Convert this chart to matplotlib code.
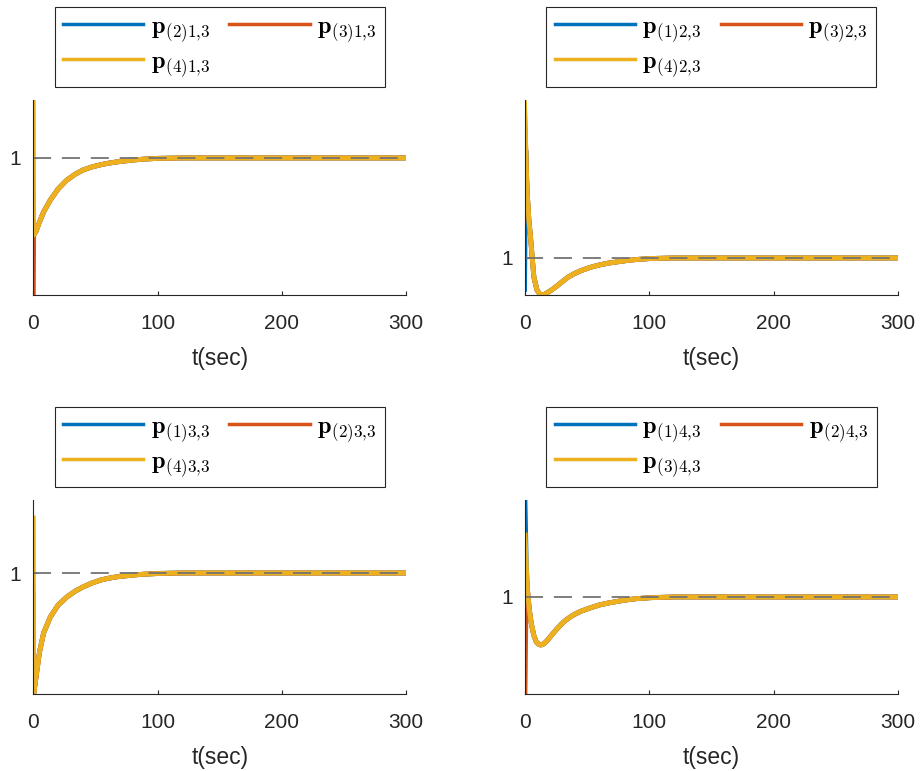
import matplotlib.pyplot as plt
from matplotlib.lines import Line2D

plt.rcParams['font.family'] = ['Liberation Sans', 'DejaVu Sans']
plt.rcParams['mathtext.fontset'] = 'cm'

# colours (MATLAB default order)
c_blue = '#0072BD'
c_red = '#D95319'
c_yel = '#EDB120'

# ---- panel 1: p_(.)1,3 ----
t_tail1 = [0.3, 2, 5, 8.3, 13.7, 20, 27, 34, 40, 47, 54, 60, 67, 80, 90, 100, 120, 300]
y_tail1 = [0.438, 0.460, 0.533, 0.606, 0.693, 0.774, 0.839, 0.883, 0.912,
           0.934, 0.950, 0.961, 0.971, 0.985, 0.992, 0.997, 1.0, 1.0]
start1 = [0.30, 0.0, 1.409]          # blue, red, yellow at t=0
ylim1 = (0.0, 1.423)
labels1 = [r'$\mathbf{p}_{(2)1{,}3}$', r'$\mathbf{p}_{(3)1{,}3}$', r'$\mathbf{p}_{(4)1{,}3}$']

# ---- panel 2: p_(.)2,3 ----
t_tail2 = [1, 2, 3.5, 5, 7.5, 10, 12, 14, 16, 18, 22, 26, 30, 35, 40, 46, 53, 60,
           67, 80, 90, 101, 120, 300]
y_tail2 = [1.788, 1.496, 1.277, 1.131, 0.861, 0.766, 0.739, 0.730, 0.734, 0.745,
           0.768, 0.795, 0.825, 0.860, 0.886, 0.910, 0.932, 0.949, 0.962, 0.979,
           0.989, 0.996, 1.0, 1.0]
start2 = [0.77, 2.08, 2.131]
ylim2 = (0.730, 2.153)
labels2 = [r'$\mathbf{p}_{(1)2{,}3}$', r'$\mathbf{p}_{(3)2{,}3}$', r'$\mathbf{p}_{(4)2{,}3}$']

# ---- panel 3: p_(.)3,3 ----
t_tail3 = [0.3, 1, 3, 5, 8.3, 13.7, 20, 27, 34, 40, 47, 54, 60, 67, 80, 90, 102, 120, 300]
y_tail3 = [0.117, 0.161, 0.292, 0.423, 0.562, 0.679, 0.766, 0.825, 0.869,
           0.898, 0.926, 0.948, 0.961, 0.972, 0.985, 0.992, 0.997, 1.0, 1.0]
start3 = [0.50, 0.85, 1.401]
ylim3 = (0.117, 1.533)
labels3 = [r'$\mathbf{p}_{(1)3{,}3}$', r'$\mathbf{p}_{(2)3{,}3}$', r'$\mathbf{p}_{(4)3{,}3}$']

# ---- panel 4: p_(.)4,3 ----
t_tail4 = [2, 3.5, 5, 7, 9, 11, 12.3, 14, 16, 18, 22, 26, 30, 33, 37, 40, 45, 53,
           60, 67, 80, 90, 101, 120, 300]
y_tail4 = [1.051, 0.905, 0.810, 0.723, 0.674, 0.655, 0.650, 0.652, 0.665, 0.684,
           0.728, 0.770, 0.808, 0.832, 0.858, 0.874, 0.896, 0.922, 0.942, 0.956,
           0.977, 0.988, 0.995, 1.0, 1.0]
start4 = [1.70, 0.292, 1.453]
mid4 = [1.234, 1.13, 1.234]          # values near t=1
ylim4 = (0.292, 1.708)
labels4 = [r'$\mathbf{p}_{(1)4{,}3}$', r'$\mathbf{p}_{(2)4{,}3}$', r'$\mathbf{p}_{(3)4{,}3}$']

panels = [
    ([0.0361, 0.6174, 0.4045, 0.2529], [0], t_tail1, y_tail1, start1, None, ylim1, labels1),
    ([0.5689, 0.6174, 0.4051, 0.2529], [0], t_tail2, y_tail2, start2, None, ylim2, labels2),
    ([0.0361, 0.0999, 0.4045, 0.2516], [0], t_tail3, y_tail3, start3, None, ylim3, labels3),
    ([0.5694, 0.0999, 0.4046, 0.2516], [0, 1], t_tail4, y_tail4, start4, mid4, ylim4, labels4),
]

fig = plt.figure(figsize=(9.22, 7.71), dpi=100)
axcol = '#262626'

for pos, t_head, tt, yt, st, mid, ylim, labs in panels:
    ax = fig.add_axes(pos)
    handles = []
    for i, col in enumerate([c_blue, c_red, c_yel]):
        y_head = [st[i]] if mid is None else [st[i], mid[i]]
        ax.plot(t_head + tt, y_head + yt, color=col, lw=3.5, solid_joinstyle='round')
        handles.append(Line2D([], [], color=col, lw=2.5))
    ax.plot([0, 300], [1, 1], color='0.45', lw=1.3, dashes=(10, 6))
    ax.set_xlim(0, 300)
    ax.set_ylim(*ylim)
    ax.set_xticks([0, 100, 200, 300])
    ax.set_yticks([1])
    ax.spines['top'].set_visible(False)
    ax.spines['right'].set_visible(False)
    for s in ['left', 'bottom']:
        ax.spines[s].set_color(axcol)
        ax.spines[s].set_linewidth(0.8)
    ax.tick_params(direction='in', length=3, width=0.8, colors=axcol,
                   labelsize=15)
    ax.tick_params(axis='x', pad=13.5)
    ax.tick_params(axis='y', pad=8.5)
    ax.set_xlabel('t(sec)', fontsize=16.5, color=axcol, labelpad=10)
    # matplotlib fills legend columns first, so reorder to get MATLAB's row order
    order = [0, 2, 1]
    leg = ax.legend([handles[k] for k in order], [labs[k] for k in order],
                    ncol=2, loc='lower center', bbox_to_anchor=(0.5, 1.065),
                    borderaxespad=0, fontsize=17.5, handlelength=3.3,
                    fancybox=False, edgecolor=axcol, framealpha=1,
                    columnspacing=0.8, handletextpad=0.3, labelspacing=0.3,
                    borderpad=0.35)
    leg.get_frame().set_linewidth(0.8)

fig.savefig('out.png', dpi=100)
